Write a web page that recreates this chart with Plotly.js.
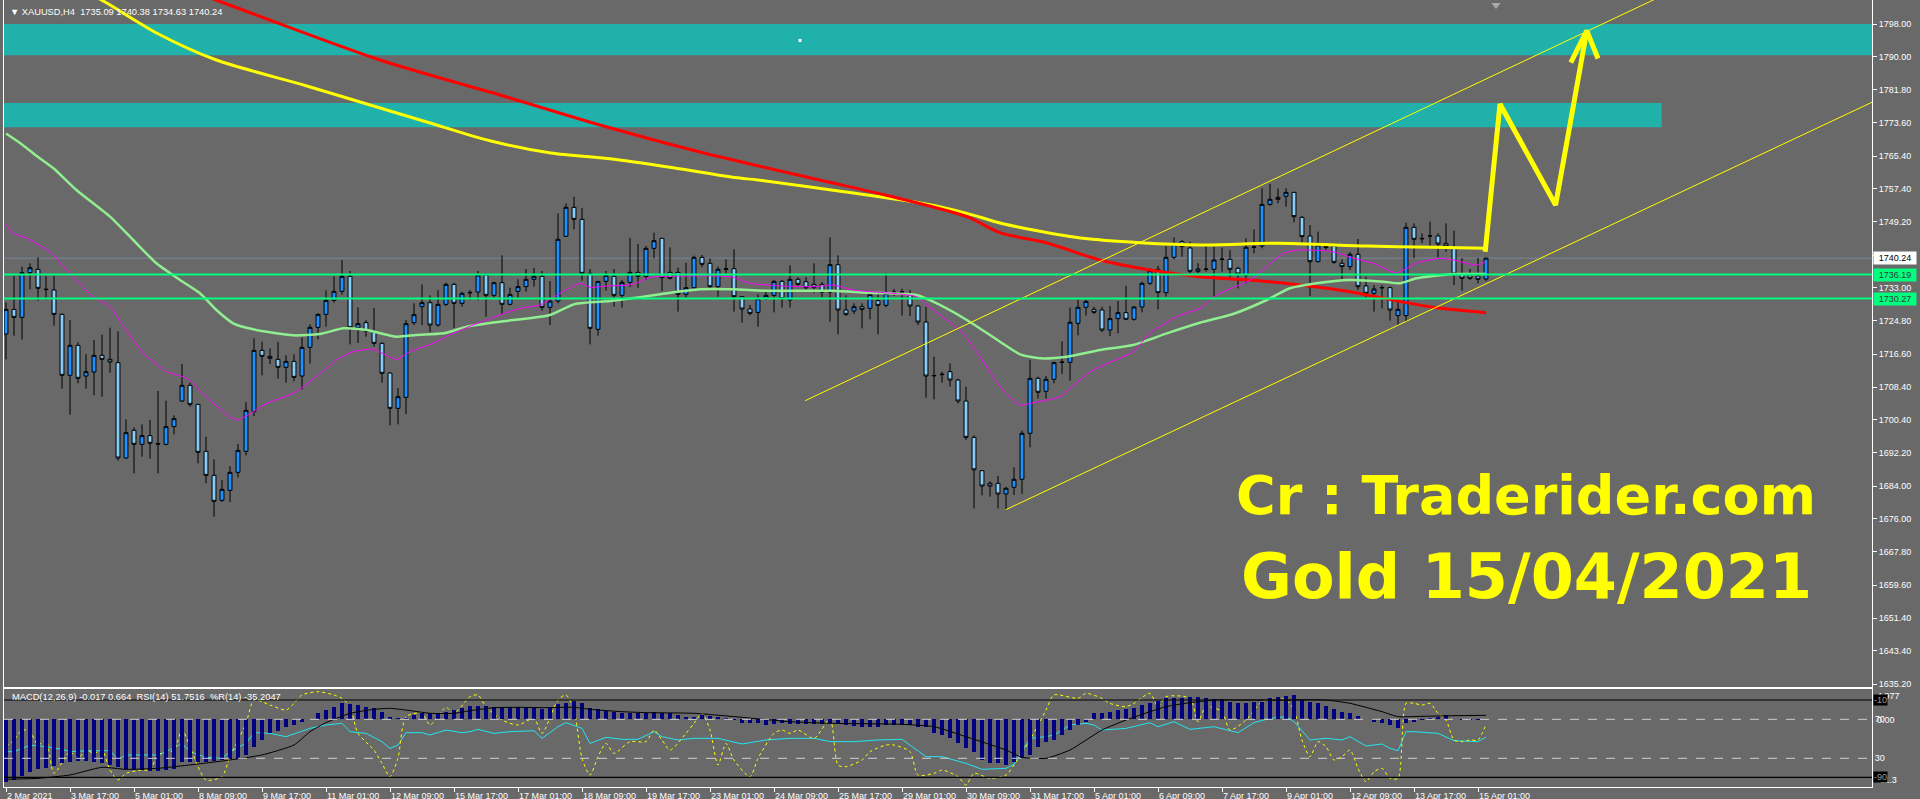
<!DOCTYPE html>
<html><head><meta charset="utf-8">
<script src="https://cdn.plot.ly/plotly-3.0.1.min.js"></script>
<style>html,body{margin:0;padding:0;background:#696969;overflow:hidden}#chart{width:1920px;height:799px}</style>
</head><body><div id="chart"></div>
<script>
// ---------- DATA ----------
const tickBars = [0,8,16,24,32,40,48,56,64,72,80,88,96,104,112,120,128,136,144,152,160,168,176,184];
const tickLabels = ["2 Mar 2021","3 Mar 17:00","5 Mar 01:00","8 Mar 09:00","9 Mar 17:00","11 Mar 01:00","12 Mar 09:00","15 Mar 17:00","17 Mar 01:00","18 Mar 09:00","19 Mar 17:00","23 Mar 01:00","24 Mar 09:00","25 Mar 17:00","29 Mar 01:00","30 Mar 09:00","31 Mar 17:00","5 Apr 01:00","6 Apr 09:00","7 Apr 17:00","9 Apr 01:00","12 Apr 09:00","13 Apr 17:00","15 Apr 01:00"];
const priceTicks = [1798.00,1790.00,1781.80,1773.60,1765.40,1757.40,1749.20,1741.00,1733.00,1724.80,1716.60,1708.40,1700.40,1692.20,1684.00,1676.00,1667.80,1659.60,1651.40,1643.40,1635.20];

const open = [1721.53,1727.61,1725.64,1736.66,1737.48,1732.60,1732.38,1726.38,1711.34,1718.74,1711.17,1712.16,1716.27,1715.28,1714.46,1690.94,1697.77,1694.32,1696.46,1694.50,1694.32,1698.68,1705.00,1708.87,1704.18,1692.59,1686.67,1680.50,1682.97,1687.41,1692.59,1702.46,1717.50,1716.02,1715.28,1713.31,1714.79,1711.17,1718.24,1723.17,1726.38,1729.84,1732.06,1735.76,1723.09,1724.33,1721.94,1719.23,1711.91,1703.20,1705.91,1724.33,1728.27,1729.26,1723.75,1728.85,1733.78,1729.10,1731.80,1731.89,1736.08,1731.07,1734.19,1728.85,1732.06,1733.21,1735.02,1735.76,1728.11,1729.67,1745.62,1752.77,1749.81,1736.50,1722.68,1734.52,1735.76,1731.07,1734.28,1736.74,1735.76,1742.66,1745.13,1736.74,1736.74,1731.32,1732.96,1740.44,1738.96,1733.21,1737.50,1737.65,1730.74,1727.70,1726.87,1730.25,1731.07,1734.52,1729.92,1735.02,1734.44,1733.78,1733.78,1731.89,1738.63,1727.45,1727.20,1728.27,1727.86,1729.75,1728.60,1731.90,1731.90,1731.15,1728.44,1724.49,1711.20,1711.50,1712.24,1710.18,1705.00,1696.04,1687.82,1684.70,1684.70,1682.07,1683.72,1685.69,1697.04,1710.60,1707.40,1710.36,1714.50,1714.55,1724.17,1728.12,1727.62,1727.46,1722.52,1725.32,1726.80,1725.16,1728.20,1734.04,1737.49,1731.73,1740.45,1744.31,1742.75,1737.00,1737.45,1737.49,1739.90,1739.96,1737.73,1736.09,1742.90,1743.24,1753.52,1754.75,1755.50,1756.48,1750.31,1745.71,1739.38,1742.90,1743.24,1738.97,1738.15,1741.19,1733.38,1731.57,1732.90,1732.97,1726.06,1726.06,1747.85,1745.00,1745.70,1745.71,1743.90,1742.92,1736.34,1736.09,1735.84,1735.09];
const high = [1729.30,1735.84,1738.14,1738.96,1740.44,1735.84,1735.84,1726.63,1724.98,1719.48,1716.60,1720.05,1721.37,1723.09,1722.19,1700.48,1698.51,1699.25,1700.32,1707.47,1705.09,1701.47,1714.13,1709.53,1704.30,1696.21,1690.62,1685.52,1688.97,1694.40,1704.76,1720.46,1719.64,1718.00,1719.56,1716.27,1716.52,1720.63,1723.91,1726.63,1732.30,1735.76,1739.78,1737.07,1728.11,1724.98,1727.94,1719.48,1712.07,1708.21,1724.98,1729.10,1733.78,1731.07,1732.38,1734.19,1734.19,1731.97,1732.38,1737.07,1736.50,1734.44,1740.93,1732.96,1735.02,1737.56,1737.81,1737.07,1734.60,1751.29,1753.76,1755.41,1752.61,1737.56,1734.60,1737.07,1737.56,1734.85,1745.21,1743.73,1743.24,1746.53,1745.20,1742.91,1737.89,1739.13,1740.85,1741.02,1740.19,1738.14,1739.95,1742.41,1730.90,1728.69,1731.32,1732.38,1734.80,1734.85,1738.47,1735.51,1735.51,1738.96,1734.36,1745.37,1740.93,1731.07,1729.10,1729.10,1731.56,1731.32,1736.50,1732.63,1732.71,1732.38,1728.60,1728.27,1715.94,1712.24,1714.30,1710.51,1708.54,1696.54,1687.90,1685.19,1686.51,1683.88,1688.65,1697.70,1715.12,1711.01,1711.18,1714.71,1719.73,1728.03,1729.92,1729.92,1728.28,1728.28,1728.44,1729.68,1733.38,1728.44,1734.45,1737.73,1738.31,1743.24,1745.38,1744.72,1744.31,1738.97,1743.24,1743.08,1742.83,1742.26,1738.15,1745.14,1747.35,1757.47,1758.54,1757.47,1757.47,1756.60,1750.64,1748.42,1746.78,1743.49,1743.30,1739.96,1741.76,1744.97,1735.68,1733.62,1733.62,1733.21,1729.76,1749.00,1748.83,1746.37,1749.25,1746.37,1748.83,1747.03,1740.28,1737.57,1740.28,1740.38];
const low = [1715.28,1721.12,1720.13,1732.55,1729.75,1729.92,1723.59,1708.05,1701.63,1709.36,1708.05,1706.40,1706.07,1711.99,1690.29,1690.78,1687.16,1691.27,1690.78,1687.16,1694.07,1696.78,1704.76,1703.61,1689.63,1684.70,1676.47,1680.09,1680.09,1686.18,1691.60,1701.30,1711.34,1714.13,1710.51,1709.53,1709.86,1707.88,1714.21,1720.22,1723.34,1729.26,1731.23,1718.98,1719.31,1720.87,1718.41,1709.53,1699.00,1699.25,1701.80,1723.75,1723.75,1722.11,1723.34,1728.44,1723.01,1728.27,1729.92,1729.84,1725.81,1730.33,1726.46,1728.60,1730.33,1731.97,1733.21,1727.29,1723.75,1729.10,1745.50,1747.35,1734.69,1718.98,1721.12,1732.22,1728.27,1728.03,1733.12,1732.96,1734.85,1740.19,1732.14,1735.02,1727.04,1730.16,1732.71,1737.97,1732.71,1730.74,1736.50,1727.04,1724.33,1726.14,1723.34,1729.92,1726.87,1728.03,1728.03,1733.21,1732.38,1731.73,1730.58,1724.57,1721.45,1725.97,1726.46,1722.93,1725.15,1721.45,1728.11,1730.90,1726.05,1725.97,1723.75,1705.83,1705.42,1709.53,1708.54,1704.43,1695.39,1678.53,1681.74,1681.41,1678.53,1677.90,1681.83,1682.07,1693.58,1705.59,1705.59,1709.37,1711.67,1710.03,1721.21,1726.06,1726.47,1722.03,1721.04,1721.70,1724.99,1724.83,1726.88,1733.62,1727.62,1730.75,1739.96,1740.61,1736.50,1736.50,1736.91,1730.75,1736.91,1735.27,1732.80,1734.04,1741.43,1742.67,1753.11,1753.77,1752.95,1749.08,1744.07,1730.91,1739.13,1742.26,1738.80,1735.02,1737.32,1732.39,1730.58,1727.05,1727.87,1724.83,1723.76,1724.58,1740.20,1743.90,1743.08,1740.45,1741.85,1733.62,1732.23,1734.86,1734.04,1734.63];
const close = [1727.61,1725.64,1736.66,1737.89,1732.80,1732.50,1726.38,1711.34,1718.74,1710.60,1712.24,1716.27,1715.28,1714.62,1690.94,1697.19,1694.32,1696.46,1694.57,1694.40,1698.68,1700.65,1708.87,1704.18,1692.34,1686.67,1680.26,1683.22,1687.41,1692.84,1702.70,1717.50,1716.02,1715.53,1713.31,1714.79,1710.84,1718.24,1723.17,1726.38,1729.84,1732.06,1735.76,1723.09,1724.08,1722.19,1719.23,1711.83,1703.20,1706.07,1724.08,1726.30,1729.26,1723.75,1728.85,1733.78,1729.10,1731.56,1731.70,1736.08,1731.07,1734.19,1728.85,1731.32,1733.21,1735.02,1735.76,1728.11,1729.67,1744.88,1752.77,1749.81,1736.50,1722.93,1734.52,1736.00,1731.07,1734.28,1736.74,1735.76,1742.66,1744.55,1735.43,1735.26,1731.32,1732.96,1740.44,1738.72,1733.21,1737.48,1737.60,1730.74,1727.70,1726.63,1730.25,1731.07,1734.52,1730.25,1735.02,1733.78,1732.96,1733.04,1731.89,1738.63,1727.45,1726.38,1728.27,1727.61,1731.32,1728.60,1731.56,1731.80,1731.95,1728.44,1724.49,1711.17,1711.30,1711.60,1710.18,1705.00,1696.04,1688.04,1684.04,1684.04,1682.07,1683.47,1685.69,1697.04,1710.60,1707.15,1710.36,1714.47,1714.60,1724.42,1728.12,1729.59,1726.88,1722.52,1725.32,1726.80,1725.16,1728.20,1734.04,1737.16,1731.73,1740.45,1743.74,1743.08,1737.00,1737.57,1737.55,1739.79,1740.00,1737.49,1736.34,1742.92,1743.00,1753.52,1754.75,1755.25,1756.48,1750.48,1745.55,1739.38,1743.49,1743.00,1739.22,1738.15,1741.19,1733.21,1731.57,1732.64,1733.00,1727.46,1727.62,1747.85,1744.89,1745.10,1745.75,1743.74,1743.24,1736.34,1735.27,1735.27,1735.02,1740.24];

const maYellowBars = [10,12.6,19,26.3,37.5,45.1,52.8,60.5,68.1,75.75,83.4,91.1,94,104.75,115,120.1,124.25,128.4,134.6,141.75,149.25,158.8,170.1,178.4,185];
const maYellowVals = [1806.0,1803.18,1795.6,1789.12,1782.78,1778.27,1773.70,1769.19,1766.18,1764.70,1762.53,1760.12,1759.52,1756.63,1753.60,1751.30,1748.91,1747.19,1745.14,1744.05,1743.49,1743.91,1743.24,1742.92,1742.67];
const maRedBars = [22,27.6,46.75,61.75,74.25,86.75,101.7,109.9,120.1,124.25,130.25,136.75,143,149.25,155.5,161.75,168,172.2,178.4,185];
const maRedVals = [1807.0,1802.93,1789.12,1780.49,1773.09,1766.43,1759.52,1755.82,1750.47,1746.52,1743.91,1739.79,1737.32,1735.67,1734.85,1733.62,1731.97,1730.34,1728.12,1726.79];
const maGreenBars = [0,2,4,6,8.8,13,15.9,18.8,21.75,24.25,26.3,28.4,30.9,35.9,39.25,42.2,45.1,48.8,51.3,54.7,57.6,61.75,68,71.1,75.5,79.25,82.6,86.75,90.9,95.1,103.4,107.6,113.8,115.9,120.1,124.25,126.75,129.25,132.6,136.75,140.9,145.1,149.25,153.4,157.6,160.5,163.8,168,172.2,174.25,176.3,178.4,180.9,185];
const maGreenVals = [1771.0,1768.3,1765.2,1762.3,1757.05,1750.47,1744.72,1738.97,1734.85,1731.57,1727.45,1724.17,1722.69,1721.21,1721.53,1722.94,1722.52,1720.87,1721.29,1721.70,1723.33,1724.57,1726.22,1728.93,1729.67,1730.58,1731.57,1732.56,1732.56,1732.21,1732.21,1731.72,1731.15,1729.50,1725.0,1719.63,1716.53,1715.54,1715.93,1717.59,1718.82,1721.70,1724.32,1726.47,1729.92,1732.81,1734.04,1734.85,1734.43,1734.04,1735.27,1735.84,1736.33,1736.33];
const maMagentaBars = [0,0.9,2.6,5.5,7.6,10.9,13,14.7,17.2,20.1,22.6,25.9,28.8,32.6,35.9,38.8,41.3,43.4,45.9,48.8,50.5,53.4,55.9,58.4,61.75,64.25,66.75,69.25,71.75,73,75.1,78.4,80.5,85.1,88.8,90.9,93,97.2,101.3,103.4,105.9,111.75,113.8,115.9,119.25,121.75,124.25,126.75,128.4,131.75,133,135.9,140.9,143,146.3,149.25,151.3,155.5,159.7,161.75,165.9,168.4,170.9,173.8,176.3,179.25,180.9,183.8,185];
const maMagentaVals = [1748.6,1746.37,1745.14,1741.83,1737.32,1730.73,1728.27,1723.33,1716.77,1712.23,1710.60,1704.44,1700.32,1704.44,1706.91,1711.0,1715.12,1717.17,1717.76,1715.29,1717.17,1719.24,1721.70,1723.75,1726.22,1727.87,1728.69,1731.57,1734.04,1733.05,1733.37,1733.79,1735.52,1735.84,1735.84,1735.52,1734.04,1733.37,1733.20,1733.62,1732.39,1731.40,1730.73,1727.45,1722.52,1715.93,1708.53,1704.02,1704.59,1706.07,1708.14,1712.65,1717.17,1721.70,1725.80,1727.87,1731.15,1734.85,1741.44,1742.25,1741.83,1740.21,1738.97,1736.65,1738.97,1740.21,1739.79,1738.55,1739.37];

const channelUpperBars = [99.9,210];
const channelUpperVals = [1705.08,1807.74];
const channelLowerBars = [124.9,233.25];
const channelLowerVals = [1678.12,1778.69];
const arrowBars = [184.9,186.75,193.7,197.6];
const arrowVals = [1741.83,1778.27,1753.35,1796.37];
const arrowHeadBars = [195.6,197.6,199.0];
const arrowHeadVals = [1788.5,1796.37,1789.5];
const zoneUpper = [1790.28,1798.00];
const zoneLower = [1772.52,1778.54];
const zoneLowerEndBar = 206.96;
const dotBar = [99.25], dotVal = [1793.95];
const shiftMarkBar = [186.25], shiftMarkVal = [1802.7];
const bidPrice = 1740.24;
const supportLevels = [1736.19,1730.27];

const macdHist = [-10.42,-10.14,-9.47,-8.75,-8.36,-8.19,-7.80,-7.35,-7.08,-6.96,-6.91,-7.08,-7.35,-7.63,-8.02,-8.36,-8.47,-8.47,-8.58,-8.58,-8.47,-8.36,-7.08,-7.08,-7.08,-7.08,-6.91,-6.80,-6.69,-6.69,-5.96,-4.57,-3.46,-2.34,-1.90,-1.23,-0.95,-0.50,0.05,1.00,1.55,2.11,2.78,2.55,2.39,2.11,1.83,1.27,0.44,0.17,0.17,0.72,1.00,1.00,1.00,1.27,1.55,1.83,2.22,2.22,2.22,2.11,2.00,2.11,2.11,2.11,1.83,1.66,2.11,2.55,2.78,3.11,2.67,1.83,1.66,1.44,1.27,1.11,1.00,1.00,1.00,1.27,1.11,1.00,0.72,0.44,0.44,0.72,0.55,0.44,0.17,-0.11,-0.56,-0.56,-0.56,-0.95,-0.79,-0.56,-0.84,-0.84,-0.84,-0.84,-0.84,-0.56,-0.56,-0.95,-1.12,-1.23,-1.23,-1.23,-0.95,-0.95,-0.95,-0.95,-1.23,-1.23,-2.34,-2.62,-3.18,-4.01,-4.85,-5.41,-6.80,-7.24,-7.35,-7.63,-7.08,-6.52,-5.96,-4.57,-3.74,-3.46,-2.62,-1.79,-0.95,-0.40,1.00,1.00,1.27,1.55,1.66,1.83,2.39,2.67,3.11,3.50,3.50,3.50,3.78,3.67,3.50,3.33,3.33,2.94,2.78,2.67,2.94,2.94,3.50,3.67,3.89,4.06,3.22,2.94,2.67,2.22,1.66,1.27,1.11,0.55,0.02,-0.39,-0.56,-0.95,-1.51,-0.67,-0.39,-0.11,0.17,0.44,0.72,0.02,-0.11,-0.10,-0.05,-0.017];
const macdSignalBars = [0,4,8,12,15,19,24,28,32,36,38,40,43,46,48,50,53,56,58,61,64,67,71,73,77,80,86,92,98,103,112,116,120,125,127,130,133,137,140,143,145,148,151,154,159,165,168,172,174,177,181,185];
const macdSignalVals = [-10.03,-9.86,-9.30,-8.02,-8.36,-8.19,-7.47,-6.80,-5.96,-4.29,-2.07,-0.56,1.0,1.66,1.83,1.55,1.0,1.0,1.44,1.94,2.0,1.94,2.0,1.66,1.27,1.11,1.0,0.33,-0.40,-0.67,-0.84,-1.23,-2.90,-5.13,-6.35,-6.52,-5.13,-1.79,-0.12,1.27,2.11,2.78,3.22,3.22,3.22,3.22,2.67,1.27,0.44,0.5,0.6,0.664];
const rsiBars = [0,1,3,5,7,8,10,13,14,15,17,19,20,22,23,25,27,28,30,31,33,35,38,40,42,43,45,47,48,49,50,52,53,55,57,58,59,61,63,66,67,69,70,72,73,75,77,79,81,82,84,86,89,92,95,98,101,103,106,109,112,115,117,120,122,125,126,127,128,130,131,133,135,136,137,140,143,144,146,148,151,154,156,158,160,161,163,165,167,168,170,172,173,174,175,176,179,181,183,184,185];
const rsiVals = [36.8,36.8,43.6,41.9,39.2,36.8,37.8,37.8,28.9,33.4,33.4,33.4,36.8,45.3,36.8,31.0,30.0,36.8,45.3,56.3,55.6,52.2,60.7,64.2,65.9,57.3,55.6,47.1,40.2,43.6,56.3,56.3,53.9,59.0,56.3,57.3,59.7,55.6,57.3,58.3,50.5,62.4,66.5,60.7,45.3,51.5,49.5,49.5,57.3,52.2,48.8,50.5,50.5,44.7,48.8,50.5,50.5,47.1,47.1,48.8,49.5,31.7,31.7,24.8,18.7,19.7,24.0,38.0,50.5,52.2,53.9,64.2,65.9,64.2,59.0,60.7,66.5,62.4,67.6,59.7,62.4,56.3,66.5,71.0,72.7,67.6,48.8,50.5,48.8,52.2,42.6,44.7,40.2,37.8,57.3,57.3,55.6,48.1,47.1,47.1,51.75];
const wprBars = [0,1,2,3,4,5,6,8,9,10,11,12,13,14,15,17,18,19,21,22,23,24,25,27,28,30,31,33,35,36,37,39,41,42,43,44,46,47,48,49,50,52,53,55,56,58,59,60,62,64,66,67,69,70,71,72,73,74,75,76,78,80,81,82,83,85,86,87,88,89,90,91,93,94,96,97,98,99,101,103,104,105,107,108,110,111,113,114,116,117,119,120,121,123,125,126,128,130,131,134,135,137,138,140,141,143,144,145,148,149,150,152,153,155,157,159,160,161,162,163,164,165,166,167,168,169,170,171,172,173,174,175,176,177,178,179,180,181,182,183,184,185];
const wprVals = [-58.3,-51.4,-41.1,-42.8,-56.6,-51.4,-85.9,-63.5,-70.4,-61.8,-65.2,-61.8,-82.5,-92.8,-85.9,-82.5,-82.5,-67.0,-61.8,-41.1,-58.3,-79.0,-92.8,-89.4,-68.7,-34.2,-10.0,-15.2,-20.4,-13.5,-4.8,-1.4,-4.8,-8.3,-16.9,-44.5,-61.8,-75.6,-89.4,-70.0,-27.3,-23.8,-35.9,-17.6,-23.8,-6.6,-4.8,-16.9,-30.7,-35.9,-29.0,-44.5,-10.0,-4.8,-20.4,-70.4,-87.7,-68.7,-54.9,-65.2,-53.1,-53.1,-41.1,-51.4,-61.8,-44.5,-34.2,-23.8,-41.1,-77.3,-54.9,-72.1,-89.4,-70.4,-44.5,-41.1,-44.5,-41.1,-49.7,-30.0,-77.3,-79.0,-72.1,-63.5,-56.6,-56.6,-63.5,-87.7,-85.9,-82.5,-89.4,-98.0,-85.9,-91.1,-87.7,-77.3,-51.4,-20.4,-4.8,-8.3,-3.1,-8.3,-13.5,-16.9,-13.5,-3.1,-16.9,-6.6,-8.3,-32.5,-16.9,-22.1,-41.1,-30.7,-11.7,-8.3,-10.0,-20.4,-51.4,-68.7,-53.1,-58.3,-72.1,-68.7,-61.8,-80.7,-94.6,-84.2,-80.7,-91.1,-91.1,-13.5,-13.5,-15.2,-13.5,-23.8,-30.7,-51.4,-53.1,-51.4,-51.4,-35.2];
const rsiLevels = [70,30];
const wprLevels = [-10,-90];

const headerText = "XAUUSD,H4\u00a0\u00a01735.09 1740.38 1734.63 1740.24";
const indicatorText = "MACD(12,26,9) -0.017 0.664\u00a0\u00a0RSI(14) 51.7516\u00a0\u00a0%R(14) -35.2047";
const caption1 = "Cr : Traderider.com";
const caption2 = "Gold 15/04/2021";

// ---------- BUILD ----------
const bars = open.map((_, i) => i);
const FONT = "Liberation Sans, Arial, sans-serif";
const traces = [];
traces.push({type:'scatter', mode:'markers', x:dotBar, y:dotVal, marker:{symbol:'square', size:3, color:'#ffffff'}, xaxis:'x', yaxis:'y', hoverinfo:'skip'});
traces.push({type:'scatter', mode:'markers', x:shiftMarkBar, y:shiftMarkVal, marker:{symbol:'triangle-down', size:8, color:'#A9A9A9'}, xaxis:'x', yaxis:'y', hoverinfo:'skip', cliponaxis:false});
traces.push({type:'candlestick', x:bars, open:open, high:high, low:low, close:close, xaxis:'x', yaxis:'y',
  increasing:{line:{color:'#000000', width:1}, fillcolor:'#1E90FF'},
  decreasing:{line:{color:'#000000', width:1}, fillcolor:'#87CEFA'},
  whiskerwidth:0, hoverinfo:'skip'});
traces.push({type:'scatter', mode:'lines', x:maYellowBars, y:maYellowVals, line:{color:'#FFFF00', width:3, shape:'spline', smoothing:0.8}, xaxis:'x', yaxis:'y', hoverinfo:'skip'});
traces.push({type:'scatter', mode:'lines', x:maRedBars, y:maRedVals, line:{color:'#FF0000', width:3, shape:'spline', smoothing:0.8}, xaxis:'x', yaxis:'y', hoverinfo:'skip'});
traces.push({type:'scatter', mode:'lines', x:maGreenBars, y:maGreenVals, line:{color:'#90EE90', width:2.5, shape:'spline', smoothing:0.6}, xaxis:'x', yaxis:'y', hoverinfo:'skip'});
traces.push({type:'scatter', mode:'lines', x:maMagentaBars, y:maMagentaVals, line:{color:'#FF00FF', width:1, shape:'spline', smoothing:0.6}, xaxis:'x', yaxis:'y', hoverinfo:'skip'});
traces.push({type:'scatter', mode:'lines', x:channelUpperBars, y:channelUpperVals, line:{color:'#FFFF00', width:1}, xaxis:'x', yaxis:'y', hoverinfo:'skip'});
traces.push({type:'scatter', mode:'lines', x:channelLowerBars, y:channelLowerVals, line:{color:'#FFFF00', width:1}, xaxis:'x', yaxis:'y', hoverinfo:'skip'});
traces.push({type:'scatter', mode:'lines', x:arrowBars, y:arrowVals, line:{color:'#FFFF00', width:5}, xaxis:'x', yaxis:'y', hoverinfo:'skip'});
traces.push({type:'scatter', mode:'lines', x:arrowHeadBars, y:arrowHeadVals, line:{color:'#FFFF00', width:5}, xaxis:'x', yaxis:'y', hoverinfo:'skip'});
// indicator panel
traces.push({type:'bar', x:bars, y:macdHist, width:0.45, marker:{color:'#000080', line:{width:0}}, xaxis:'x2', yaxis:'y4', hoverinfo:'skip'});
traces.push({type:'scatter', mode:'lines', x:macdSignalBars, y:macdSignalVals, line:{color:'#000000', width:1, shape:'spline', smoothing:0.5}, xaxis:'x2', yaxis:'y4', hoverinfo:'skip'});
traces.push({type:'scatter', mode:'lines', x:rsiBars, y:rsiVals, line:{color:'#22E5F0', width:1}, xaxis:'x2', yaxis:'y2', hoverinfo:'skip'});
traces.push({type:'scatter', mode:'lines', x:wprBars, y:wprVals, line:{color:'#FFFF00', width:1, dash:'dot', shape:'spline', smoothing:0.7}, xaxis:'x2', yaxis:'y3', hoverinfo:'skip'});

const shapes = [];
shapes.push({type:'rect', layer:'below', xref:'paper', x0:0, x1:1, yref:'y', y0:zoneUpper[0], y1:zoneUpper[1], fillcolor:'#20B2AA', line:{width:0}});
shapes.push({type:'rect', layer:'below', xref:'x', x0:-0.25, x1:zoneLowerEndBar, yref:'y', y0:zoneLower[0], y1:zoneLower[1], fillcolor:'#20B2AA', line:{width:0}});
shapes.push({type:'line', layer:'below', xref:'paper', x0:0, x1:1, yref:'y', y0:bidPrice, y1:bidPrice, line:{color:'#7A8898', width:1}});
supportLevels.forEach(v => shapes.push({type:'line', xref:'paper', x0:0, x1:1, yref:'y', y0:v, y1:v, line:{color:'#00FF7F', width:2}}));
rsiLevels.forEach(v => shapes.push({type:'line', xref:'paper', x0:0, x1:1, yref:'y2', y0:v, y1:v, line:{color:'#D0D0D0', width:1, dash:'dash'}}));
wprLevels.forEach(v => shapes.push({type:'line', xref:'paper', x0:0, x1:1, yref:'y3', y0:v, y1:v, line:{color:'#000000', width:1.2}}));

const ann = [];
ann.push({xref:'paper', yref:'paper', x:0.0022, y:0.9848, xanchor:'left', yanchor:'middle', showarrow:false, text:'\u25BC ' + headerText, font:{family:FONT, size:9.3, color:'#ffffff'}});
ann.push({xref:'paper', yref:'paper', x:0.0032, y:0.1144, xanchor:'left', yanchor:'middle', showarrow:false, text:indicatorText, font:{family:FONT, size:9.3, color:'#ffffff'}});
ann.push({xref:'paper', yref:'y', x:1, y:bidPrice, xanchor:'left', yanchor:'middle', xshift:1, showarrow:false, text:bidPrice.toFixed(2), width:40, bgcolor:'#ffffff', borderpad:1, font:{family:FONT, size:9, color:'#000000'}});
supportLevels.forEach(v => ann.push({xref:'paper', yref:'y', x:1, y:v, xanchor:'left', yanchor:'middle', xshift:1, showarrow:false, text:v.toFixed(2), width:40, bgcolor:'#00FF7F', borderpad:1, font:{family:FONT, size:9, color:'#3a3a3a'}}));
ann.push({xref:'paper', yref:'y4', x:1, y:4.977, xanchor:'left', yanchor:'top', xshift:3, showarrow:false, text:'4.977', font:{family:FONT, size:9, color:'#ffffff'}});
ann.push({xref:'paper', yref:'y4', x:1, y:-11.31, xanchor:'left', yanchor:'bottom', xshift:3, showarrow:false, text:'-11.3', font:{family:FONT, size:9, color:'#ffffff'}});
ann.push({xref:'paper', yref:'y4', x:1, y:0, xanchor:'left', yanchor:'middle', xshift:3, yshift:-1, showarrow:false, text:'0.00', font:{family:FONT, size:9, color:'#ffffff'}});
wprLevels.forEach(v => ann.push({xref:'paper', yref:'y3', x:1, y:v, xanchor:'left', yanchor:'middle', xshift:1, showarrow:false, text:String(v), bgcolor:'#000000', borderpad:0, font:{family:FONT, size:9, color:'#9a9a9a'}}));
ann.push({xref:'paper', yref:'paper', x:0.8148, y:0.371, xanchor:'center', yanchor:'middle', showarrow:false, text:'<b>' + caption1 + '</b>', font:{family:'DejaVu Sans', size:54, color:'#FFFF00'}});
ann.push({xref:'paper', yref:'paper', x:0.8148, y:0.268, xanchor:'center', yanchor:'middle', showarrow:false, text:'<b>' + caption2 + '</b>', font:{family:'DejaVu Sans', size:62, color:'#FFFF00'}});

const xRange = [-0.25, 233.25];
const layout = {
  width:1920, height:799,
  margin:{l:4, r:48, t:0, b:12, pad:0},
  paper_bgcolor:'#696969', plot_bgcolor:'#696969',
  showlegend:false, hovermode:false, bargap:0,
  xaxis:{domain:[0,1], range:xRange, anchor:'y', rangeslider:{visible:false}, showticklabels:false, ticks:'', showgrid:false, zeroline:false, showline:true, mirror:true, linecolor:'#ffffff', linewidth:1},
  xaxis2:{domain:[0,1], range:xRange, anchor:'y2', showgrid:false, zeroline:false, showline:true, mirror:true, linecolor:'#ffffff', linewidth:1,
    tickmode:'array', tickvals:tickBars, ticktext:tickLabels, ticks:'outside', ticklen:4, tickcolor:'#ffffff', ticklabelposition:'outside right',
    tickfont:{family:FONT, size:9, color:'#ffffff'}},
  yaxis:{domain:[0.12706,1], range:[1634.46,1803.92], anchor:'x', side:'right', showgrid:false, zeroline:false, showline:true, mirror:true, linecolor:'#ffffff', linewidth:1,
    tickmode:'array', tickvals:priceTicks, ticktext:priceTicks.map(v => v.toFixed(2)), ticks:'outside', ticklen:4, tickcolor:'#ffffff',
    tickfont:{family:FONT, size:9, color:'#ffffff'}},
  yaxis2:{domain:[0,0.12389], range:[0.56,100.6], anchor:'x2', side:'right', showgrid:false, zeroline:false, showline:true, mirror:true, linecolor:'#ffffff', linewidth:1,
    tickmode:'array', tickvals:rsiLevels, ticktext:rsiLevels.map(String), ticks:'', tickfont:{family:FONT, size:9, color:'#ffffff'}},
  yaxis3:{overlaying:'y2', anchor:'x2', range:[-100.04,0.87], visible:false},
  yaxis4:{overlaying:'y2', anchor:'x2', range:[-11.31,4.977], visible:false},
  shapes:shapes, annotations:ann
};
Plotly.newPlot('chart', traces, layout, {staticPlot:true, displayModeBar:false});
</script></body></html>
